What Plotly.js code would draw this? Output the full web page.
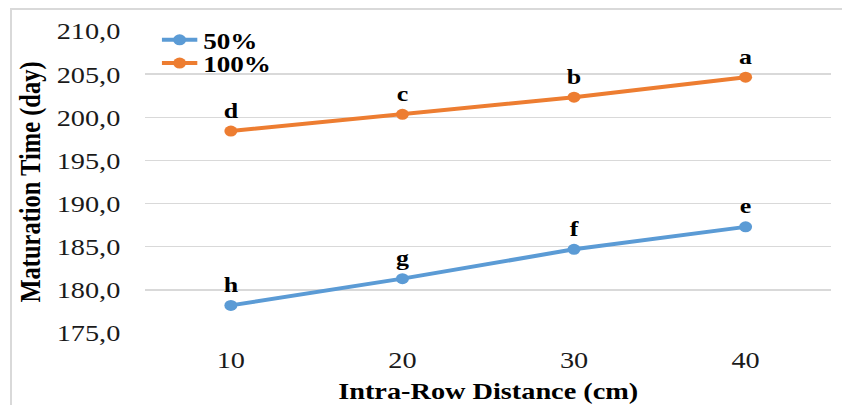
<!DOCTYPE html>
<html>
<head>
<meta charset="utf-8">
<script src="https://cdn.plot.ly/plotly-3.0.1.min.js"></script>
<style>
  html, body { margin: 0; padding: 0; background: #fff; }
  #wrap { position: relative; width: 842px; height: 405px; overflow: hidden; background: #fff; }
  #chart { position: absolute; left: 0; top: 0; width: 714px; height: 405px; transform: scaleX(1.1793); transform-origin: 0 0; }
  #frame { position: absolute; left: 10px; top: 8px; width: 900px; height: 500px; border-left: 2px solid #d9d9d9; border-top: 2px solid #d9d9d9; pointer-events: none; }
</style>
</head>
<body>
<div id="wrap">
  <div id="chart"></div>
  <div id="frame"></div>
</div>
<script>
// Data
const categories = ['10', '20', '30', '40'];
const series50 = [178.2, 181.3, 184.7, 187.3];
const series100 = [198.4, 200.35, 202.33, 204.65];
const letters50 = ['h', 'g', 'f', 'e'];
const letters100 = ['d', 'c', 'b', 'a'];
const seriesNames = ['50%', '100%'];
const yTitle = 'Maturation Time (day)';
const xTitle = 'Intra-Row Distance (cm)';

const serif = 'Liberation Serif, Times New Roman, serif';
const blue = '#5B9BD5';
const orange = '#ED7D31';

const traces = [
  {
    x: categories, y: series50, name: seriesNames[0], text: letters50,
    type: 'scatter', mode: 'lines+markers+text', textposition: 'top center',
    textfont: {family: serif, size: 22, color: '#000', weight: 'bold'},
    line: {color: blue, width: 4}, marker: {color: blue, size: 11},
    cliponaxis: false, legend: 'legend'
  },
  {
    x: categories, y: series100, name: seriesNames[1], text: letters100,
    type: 'scatter', mode: 'lines+markers+text', textposition: 'top center',
    textfont: {family: serif, size: 22, color: '#000', weight: 'bold'},
    line: {color: orange, width: 4}, marker: {color: orange, size: 11},
    cliponaxis: false, legend: 'legend2'
  }
];

const legendFont = {family: serif, size: 23, color: '#000', weight: 'bold'};
const layout = {
  width: 714, height: 405,
  font: {family: serif, size: 24, color: '#1a1a1a'},
  margin: {l: 123, r: 9, t: 31, b: 72},
  paper_bgcolor: '#fff', plot_bgcolor: '#fff',
  separators: ', ',
  showlegend: true,
  legend: {
    x: 0.016, y: 1.042, xanchor: 'left', yanchor: 'top',
    bgcolor: 'rgba(0,0,0,0)', font: legendFont, itemwidth: 30
  },
  legend2: {
    x: 0.016, y: 0.965, xanchor: 'left', yanchor: 'top',
    bgcolor: 'rgba(0,0,0,0)', font: legendFont, itemwidth: 30
  },
  xaxis: {
    type: 'category', range: [-0.5, 3.5],
    showgrid: false, zeroline: false, showline: false, ticks: '',
    tickfont: {family: serif, size: 24, color: '#1a1a1a'},
    ticklabelstandoff: 10,
    title: {text: xTitle, font: {family: serif, size: 24, color: '#000', weight: 'bold'}, standoff: 10}
  },
  yaxis: {
    range: [175, 210], dtick: 5, tick0: 175, tickformat: '.1f',
    showgrid: true, gridcolor: '#d9d9d9', gridwidth: 1.5,
    zeroline: false, showline: false, ticks: '',
    tickfont: {family: serif, size: 24, color: '#1a1a1a'},
    ticklabelstandoff: 20,
    title: {text: yTitle, font: {family: serif, size: 24.5, color: '#000', weight: 'bold'}, standoff: 6}
  }
};

Plotly.newPlot('chart', traces, layout, {displayModeBar: false, staticPlot: true});
</script>
</body>
</html>
